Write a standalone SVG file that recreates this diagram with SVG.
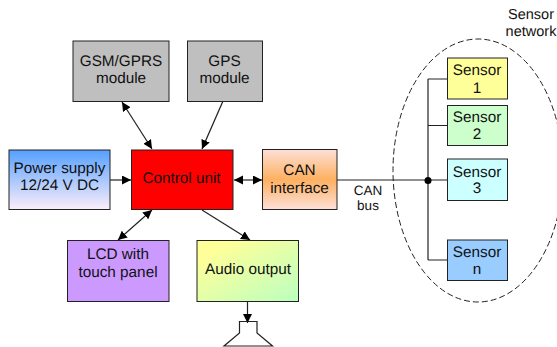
<svg xmlns="http://www.w3.org/2000/svg" width="557" height="347" viewBox="0 0 557 347">
<style>
text{font-family:"Liberation Sans",Arial,sans-serif;font-size:15.300px;fill:#111;text-anchor:middle;text-rendering:geometricPrecision}
.b{stroke:#222;stroke-width:1}
.c{fill:none;stroke:#222;stroke-width:1.2}
</style>
<defs>
<marker id="a" markerUnits="userSpaceOnUse" markerWidth="10" markerHeight="10" refX="9" refY="4.5" orient="auto-start-reverse"><path d="M0 0L9 4.5L0 9Z" fill="#000"/></marker>
<linearGradient id="p" x1="0" y1="0" x2="0" y2="1"><stop offset="0" stop-color="#55a0ff"/><stop offset="1" stop-color="#fbeefa"/></linearGradient>
<linearGradient id="o" x1="0" y1="0" x2="0" y2="1"><stop offset="0" stop-color="#fde0d8"/><stop offset=".5" stop-color="#fdb060"/><stop offset="1" stop-color="#fde0d8"/></linearGradient>
<linearGradient id="g" x1="0" y1="0" x2="1" y2="1"><stop offset=".15" stop-color="#ffff99"/><stop offset="1" stop-color="#bbffc0"/></linearGradient>
</defs>
<g id="connectors">
<path class="c" d="M122 102L152 149" marker-start="url(#a)" marker-end="url(#a)"/>
<path class="c" d="M223 101L202 149" marker-end="url(#a)"/>
<path class="c" d="M110 180H131" marker-end="url(#a)"/>
<path class="c" d="M234 180H262" marker-start="url(#a)" marker-end="url(#a)"/>
<path class="c" d="M152 210L118 240" marker-start="url(#a)" marker-end="url(#a)"/>
<path class="c" d="M202 210L250 240" marker-end="url(#a)"/>
<path class="c" d="M247.500 302V323" marker-end="url(#a)"/>
<path class="c" d="M337 180H447M428 79V260M428 79H447M428 125.500H447M428 260H447"/>
<circle cx="428" cy="180.500" r="3.500" fill="#000"/>
</g>
<ellipse id="sensor-network-boundary" cx="478" cy="170.500" rx="85" ry="131.500" fill="none" stroke="#222" stroke-width="1" stroke-dasharray="6 3"/>
<g id="gsm"><rect class="b" x="73" y="41" width="96" height="60.500" fill="#bfbfbf"/><text x="121" y="66">GSM/GPRS</text><text x="121" y="83">module</text></g>
<g id="gps"><rect class="b" x="187.500" y="41" width="75" height="60.500" fill="#bfbfbf"/><text x="224.500" y="66">GPS</text><text x="224.500" y="83">module</text></g>
<g id="power"><rect class="b" x="9" y="150" width="101" height="59.500" fill="url(#p)"/><text x="59.500" y="173">Power supply</text><text x="59.500" y="190">12/24 V DC</text></g>
<g id="control"><rect class="b" x="131.500" y="150" width="101.500" height="59.500" fill="#ff0000"/><text x="181.500" y="183">Control unit</text></g>
<g id="can"><rect class="b" x="262.500" y="149.500" width="74.500" height="60" fill="url(#o)"/><text x="299.500" y="175">CAN</text><text x="299.500" y="193">interface</text></g>
<g id="lcd"><rect class="b" x="67.500" y="240.500" width="101.500" height="61" fill="#cc99ff"/><text x="118" y="259">LCD with</text><text x="118" y="277">touch panel</text></g>
<g id="audio"><rect class="b" x="197" y="240.500" width="101.500" height="61" fill="url(#g)"/><text x="248" y="274">Audio output</text></g>
<g id="speaker"><path d="M239.500 333V321.500H257V333L272.500 346H224Z" fill="none" stroke="#222" stroke-width="1.200"/></g>
<g id="sensor1"><rect class="b" x="447.500" y="58" width="60" height="41" fill="#ffff99"/><text x="477" y="75">Sensor</text><text x="477" y="93">1</text></g>
<g id="sensor2"><rect class="b" x="447.500" y="105.500" width="60" height="40" fill="#ccffcc"/><text x="477" y="122">Sensor</text><text x="477" y="139">2</text></g>
<g id="sensor3"><rect class="b" x="447.500" y="159" width="60" height="41.500" fill="#ccffff"/><text x="477" y="177">Sensor</text><text x="477" y="193">3</text></g>
<g id="sensorn"><rect class="b" x="447.500" y="240" width="60" height="40.500" fill="#99ccff"/><text x="477" y="257">Sensor</text><text x="477" y="274">n</text></g>
<g id="labels"><text x="368" y="195" style="font-size:13.500px">CAN</text><text x="368" y="210" style="font-size:13.500px">bus</text><text x="531" y="19" style="font-size:14.500px">Sensor</text><text x="531" y="36" style="font-size:14.500px">network</text></g>
</svg>
